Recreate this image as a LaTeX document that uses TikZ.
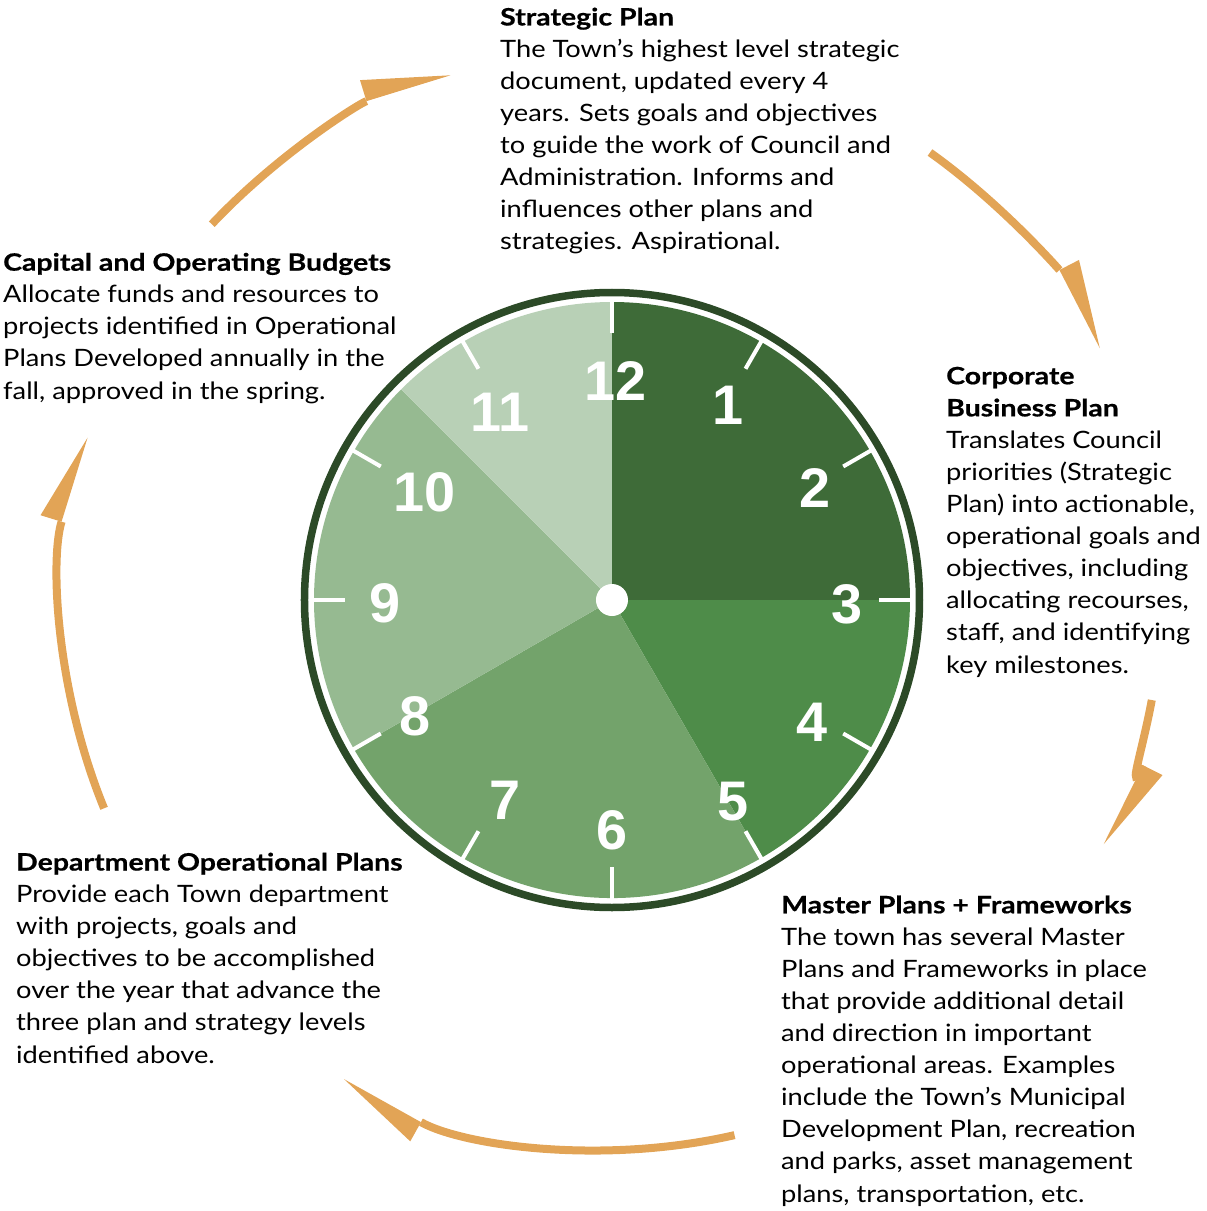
\documentclass[tikz,border=0pt]{standalone}
\usepackage{fontspec}
\setmainfont{Lato}[FakeStretch=1.14, BoldFeatures={FakeStretch=1.19, FakeBold=0.6}]
\newfontfamily\dialfont{Liberation Sans}
\usetikzlibrary{arrows.meta}
\definecolor{ringgreen}{RGB}{44,74,39}
\definecolor{hourA}{RGB}{62,107,56}
\definecolor{hourB}{RGB}{78,140,73}
\definecolor{hourC}{RGB}{115,163,107}
\definecolor{hourD}{RGB}{150,186,145}
\definecolor{hourE}{RGB}{184,208,182}
\definecolor{amber}{RGB}{226,164,86}

\begin{document}
\begin{tikzpicture}[
  x=1bp, y=1bp,
  font=\fontsize{24}{32.2}\selectfont,
  blurb/.style={anchor=base west, align=left, inner sep=0pt},
  hour/.style={font=\dialfont\bfseries\fontsize{56}{56}\selectfont,
               text=white, inner sep=0pt},
  hourtick/.style={draw=white, line width=4bp},
  cyclearr/.style={draw=amber, line width=8bp,
                   -{Triangle[harpoon, length=88bp, width=44bp, line width=0pt]}}
]
\useasboundingbox (-612,-611) rectangle (595,600);

% dial face
\fill[white] (0,0) circle[radius=304];
\fill[hourA] (0,0) -- (90:298) arc[start angle=90, end angle=0, radius=298] -- cycle;
\fill[hourB] (0,0) -- (0:298) arc[start angle=0, end angle=-60, radius=298] -- cycle;
\fill[hourC] (0,0) -- (-60:298) arc[start angle=-60, end angle=-150, radius=298] -- cycle;
\fill[hourD] (0,0) -- (-150:298) arc[start angle=-150, end angle=-225, radius=298] -- cycle;
\fill[hourE] (0,0) -- (135:298) arc[start angle=135, end angle=90, radius=298] -- cycle;
\draw[ringgreen, line width=7.5bp] (0,0) circle[radius=307.5];

\foreach \h in {1,...,12}
  \draw[hourtick] (90-30*\h:267) -- (90-30*\h:300);

\foreach \n/\x/\y in {1/116/195, 2/203/112, 3/235/-4, 4/200/-122,
                      5/121/-202, 6/0/-230, 7/-107/-200, 8/-197/-116,
                      9/-227/-3, 10/-187/108, 11/-112/188, 12/4/219}
  \node[hour] (h\n) at (\x,\y) {\n};

\node[circle, fill=white, minimum size=32bp, inner sep=0pt] (hub) at (0,0) {};

% the five stages (placed by the baseline of their last line)
\node[blurb] (strategic) at (-112,350) {\textbf{Strategic Plan}\\
  The Town’s highest level strategic\\
  document, updated every 4\\
  years. Sets goals and objectives\\
  to guide the work of Council and\\
  Administration. Informs and\\
  influences other plans and\\
  strategies. Aspirational.};

\node[blurb] (corporate) at (334,-73) {\textbf{Corporate}\\
  \textbf{Business Plan}\\
  Translates Council\\
  priorities (Strategic\\
  Plan) into actionable,\\
  operational goals and\\
  objectives, including\\
  allocating recourses,\\
  staff, and identifying\\
  key milestones.};

\node[blurb] (master) at (169,-602) {\textbf{Master Plans + Frameworks}\\
  The town has several Master\\
  Plans and Frameworks in place\\
  that provide additional detail\\
  and direction in important\\
  operational areas. Examples\\
  include the Town’s Municipal\\
  Development Plan, recreation\\
  and parks, asset management\\
  plans, transportation, etc.};

\node[blurb] (department) at (-596,-463) {\textbf{Department Operational Plans}\\
  Provide each Town department\\
  with projects, goals and\\
  objectives to be accomplished\\
  over the year that advance the\\
  three plan and strategy levels\\
  identified above.};

\node[blurb] (budgets) at (-609,201) {\textbf{Capital and Operating Budgets}\\
  Allocate funds and resources to\\
  projects identified in Operational\\
  Plans Developed annually in the\\
  fall, approved in the spring.};

% arcs running clockwise round the dial
\coordinate (toStrategic) at (136.8:549);
\coordinate (toCorporate) at (54.6:549);
\coordinate (toMaster) at (-10.5:549);
\coordinate (toDepartment) at (-77.1:549);
\coordinate (toBudgets) at (202.3:549);

\draw[cyclearr] (toStrategic) arc[start angle=136.8, end angle=107.1, radius=549];
\draw[cyclearr] (toCorporate) arc[start angle=54.6, end angle=27.3, radius=549];
\draw[cyclearr] (toMaster) arc[start angle=-10.5, end angle=-26.4, radius=549];
\draw[cyclearr] (toDepartment) arc[start angle=-77.1, end angle=-119.2, radius=549];
\draw[cyclearr] (toBudgets) arc[start angle=202.3, end angle=162.8, radius=549];

\end{tikzpicture}
\end{document}
